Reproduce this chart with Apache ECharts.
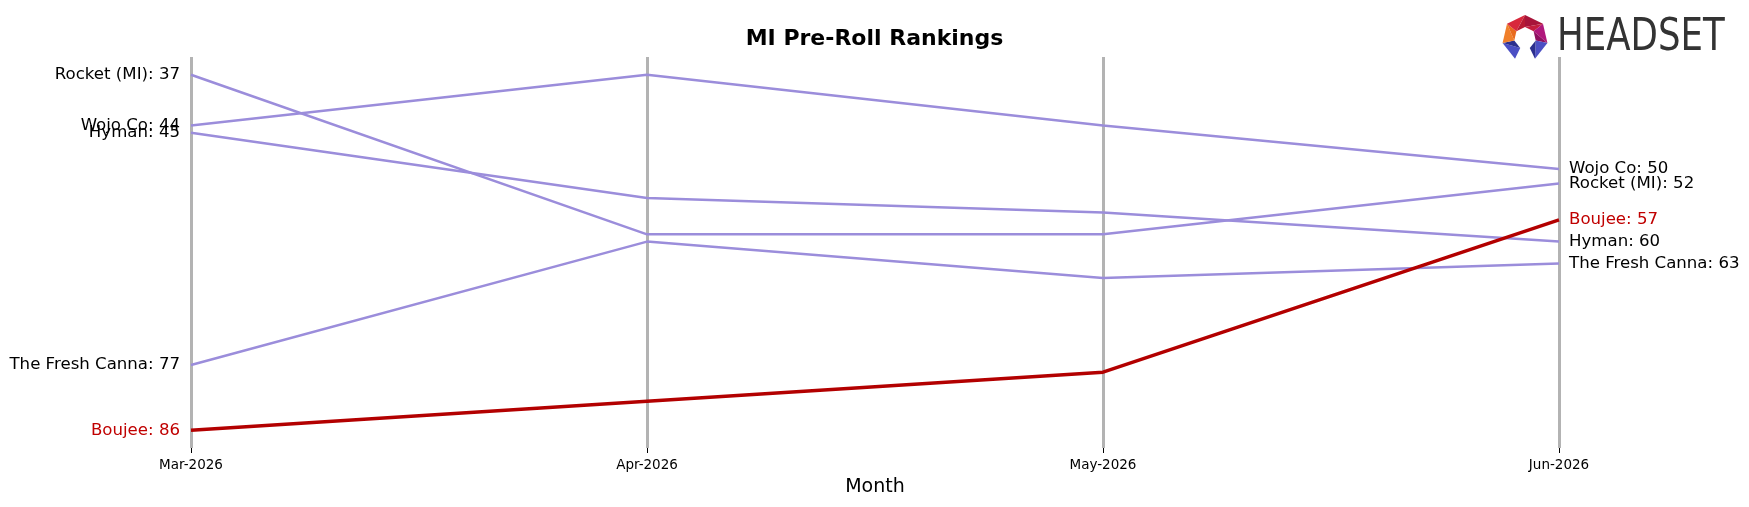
<!DOCTYPE html>
<html>
<head>
<meta charset="utf-8">
<script src="https://cdn.jsdelivr.net/npm/echarts@6/dist/echarts.min.js"></script>
<style>
  html, body { margin: 0; padding: 0; background: #fff; }
  #chart { width: 1749px; height: 507px; }
</style>
</head>
<body>
<div id="chart"></div>
<script>
const months = ['Mar-2026', 'Apr-2026', 'May-2026', 'Jun-2026'];
const brands = ['Wojo Co', 'Rocket (MI)', 'Hyman', 'The Fresh Canna', 'Boujee'];
const wojoRanks = [44, 37, 44, 50];
const rocketRanks = [37, 59, 59, 52];
const hymanRanks = [45, 54, 56, 60];
const freshCannaRanks = [77, 60, 65, 63];
const boujeeRanks = [86, 82, 78, 57];
const highlight = 'Boujee';

const rankLists = [wojoRanks, rocketRanks, hymanRanks, freshCannaRanks, boujeeRanks];

const myChart = echarts.init(document.getElementById('chart'));

// rank line, label only at first and last month
const makeSeries = (name, ranks) => {
  const isMain = name === highlight;
  const last = ranks.length - 1;
  return {
    name: name,
    type: 'line',
    symbol: 'circle',
    symbolSize: 0,
    z: isMain ? 5 : 2,
    lineStyle: {
      color: isMain ? '#b30000' : '#9b8ddb',
      width: isMain ? 3.5 : 2.5,
    },
    itemStyle: { color: isMain ? '#b30000' : '#9b8ddb' },
    label: {
      show: false,
      fontFamily: 'DejaVu Sans',
      fontSize: 16.6,
      color: isMain ? '#c00000' : '#000',
      formatter: (p) => name + ': ' + p.value,
    },
    data: ranks.map((v, i) => ({
      value: v,
      label: {
        show: i === 0 || i === last,
        position: i === 0 ? 'left' : 'right',
        distance: i === 0 ? 11 : 10,
      },
    })),
  };
};

// headset logo: heptagon ring, bottom side open
const logoCx = 1525, logoCy = 38, outerR = 23, innerR = 11;
const logoColors = ['#a8143a', '#b0187c', '#4b4fc4', null, '#4b4fc4', '#f07f2a', '#d8283c'];
const logoDark = ['#c41d3e', '#8e1060', '#2c2f8e', null, '#2c2f8e', '#e86a1e', '#b81b34'];
const logoParts = [];
for (let k = 0; k < 7; k++) {
  if (!logoColors[k]) continue;
  const a1 = (-90 + k * 360 / 7) * Math.PI / 180;
  const a2 = (-90 + (k + 1) * 360 / 7) * Math.PI / 180;
  const o1 = [logoCx + outerR * Math.cos(a1), logoCy + outerR * Math.sin(a1)];
  const o2 = [logoCx + outerR * Math.cos(a2), logoCy + outerR * Math.sin(a2)];
  const i1 = [logoCx + innerR * Math.cos(a1), logoCy + innerR * Math.sin(a1)];
  const i2 = [logoCx + innerR * Math.cos(a2), logoCy + innerR * Math.sin(a2)];
  logoParts.push({
    type: 'polygon',
    shape: { points: [o1, o2, i1] },
    style: { fill: logoColors[k] },
  });
  logoParts.push({
    type: 'polygon',
    shape: { points: [o2, i2, i1] },
    style: { fill: logoDark[k] },
  });
}

myChart.setOption({
  animation: false,
  backgroundColor: '#fff',
  title: {
    text: 'MI Pre-Roll Rankings',
    left: 'center',
    top: 23,
    textStyle: {
      fontFamily: 'DejaVu Sans',
      fontSize: 22,
      fontWeight: 'bold',
      color: '#000',
    },
  },
  grid: {
    left: 191,
    right: 190,
    top: 57,
    bottom: 59,
  },
  xAxis: {
    type: 'category',
    data: months,
    boundaryGap: false,
    name: 'Month',
    nameLocation: 'middle',
    nameGap: 30,
    nameTextStyle: {
      fontFamily: 'DejaVu Sans',
      fontSize: 19,
      color: '#000',
    },
    axisLine: { show: false },
    axisTick: {
      show: true,
      length: 5,
      lineStyle: { color: '#000', width: 1 },
    },
    axisLabel: {
      margin: 10,
      fontFamily: 'DejaVu Sans',
      fontSize: 13.5,
      color: '#000',
    },
    splitLine: {
      show: true,
      lineStyle: { color: '#b3b3b3', width: 3 },
    },
  },
  yAxis: {
    type: 'value',
    inverse: true,
    min: 34.55,
    max: 88.45,
    show: false,
    splitLine: { show: false },
  },
  series: brands.map((b, i) => makeSeries(b, rankLists[i])),
  graphic: [
    ...logoParts,
    {
      type: 'text',
      x: 1557,
      y: 38,
      scaleX: 0.79,
      style: {
        text: 'HEADSET',
        font: '45px "DejaVu Sans"',
        fill: '#333333',
        textVerticalAlign: 'middle',
      },
    },
  ],
});

window.onresize = function () {
  myChart.resize();
};
</script>
</body>
</html>
